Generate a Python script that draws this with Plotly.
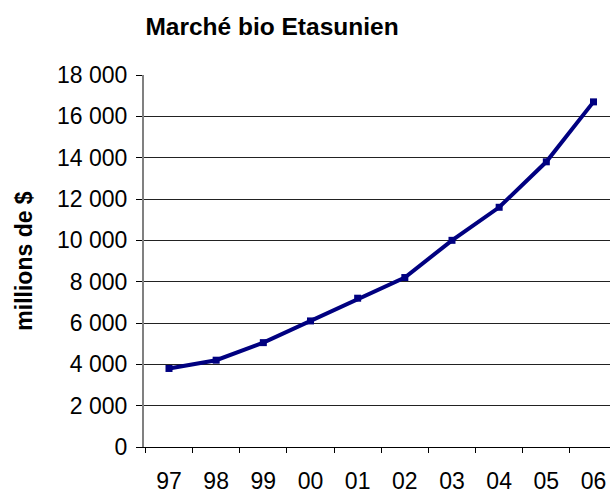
import plotly.graph_objects as go

years = ["97", "98", "99", "00", "01", "02", "03", "04", "05", "06"]
sales = [3800, 4200, 5050, 6100, 7200, 8200, 10000, 11600, 13800, 16700]
y_ticks = [0, 2000, 4000, 6000, 8000, 10000, 12000, 14000, 16000, 18000]
y_tick_labels = ["0", "2 000", "4 000", "6 000", "8 000", "10 000", "12 000", "14 000", "16 000", "18 000"]

FONT = "Arial, Liberation Sans, sans-serif"

fig = go.Figure()
fig.add_trace(go.Scatter(
    x=years, y=sales, mode="lines+markers",
    line=dict(color="#000080", width=4),
    marker=dict(symbol="square", size=7, color="#000080"),
    showlegend=False, cliponaxis=False,
))

fig.update_layout(
    width=610, height=494,
    margin=dict(l=144, r=0, t=75, b=42),
    paper_bgcolor="white", plot_bgcolor="white",
    font=dict(family=FONT, size=23, color="black"),
    title=dict(text="<b>Marché bio Etasunien</b>", x=272/610, xanchor="center",
               y=1-26/494, yanchor="middle", xref="container", yref="container",
               font=dict(family=FONT, size=24.5, color="black")),
    xaxis=dict(
        type="category", range=[-0.53, 9.35],
        tickson="boundaries", ticks="outside", ticklen=5, tickcolor="black",
        showline=True, linecolor="black", linewidth=1,
        showgrid=False, zeroline=False,
        tickfont=dict(family=FONT, size=23, color="black"),
        ticklabelstandoff=13,
    ),
    yaxis=dict(
        range=[0, 18000], tickvals=y_ticks, ticktext=y_tick_labels,
        ticks="outside", ticklen=6, tickcolor="black",
        showline=True, linecolor="#808080", linewidth=2,
        showgrid=True, gridcolor="#222222", gridwidth=1,
        zeroline=False,
        tickfont=dict(family=FONT, size=23, color="black"),
        ticklabelstandoff=4,
        title=dict(text="<b>millions de $</b>", standoff=18,
                   font=dict(family=FONT, size=23, color="black")),
    ),
)

fig.write_html("out.html", config={"displayModeBar": False},
               post_script="document.body.style.margin='0';document.body.style.overflow='hidden';")
